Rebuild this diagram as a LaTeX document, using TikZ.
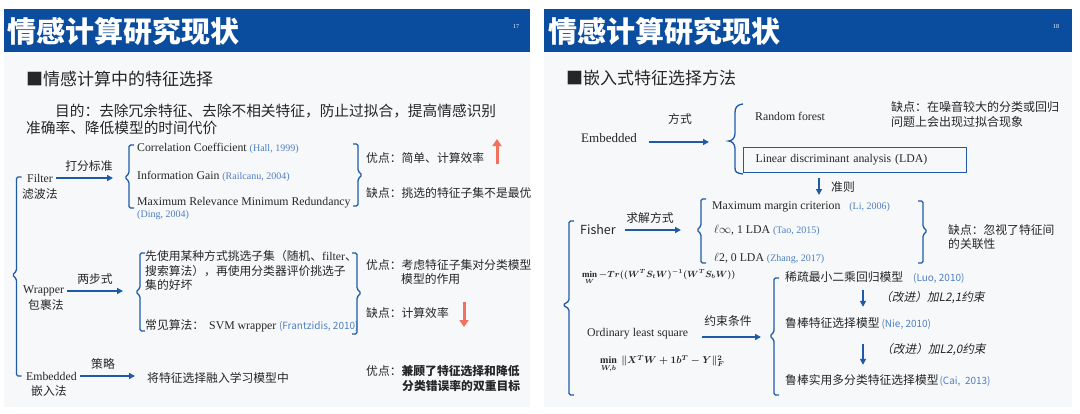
\documentclass[tikz,border=0pt]{standalone}
\usepackage{fontspec}
\setmainfont{Liberation Serif}
\newfontfamily\cjk{Noto Sans CJK SC}
\newfontfamily\cjki[FakeSlant=0.2]{Noto Sans CJK SC}
\usetikzlibrary{arrows.meta}
\definecolor{barblue}{HTML}{0A4C9E}
\definecolor{lineblue}{HTML}{1E5AA8}
\definecolor{citeblue}{HTML}{4F7FC0}
\definecolor{txt}{HTML}{262626}
\definecolor{slidebg}{HTML}{F7F8FA}
\definecolor{redarr}{HTML}{F2715E}
\newcommand\rf[1]{{\fontsize{10}{12}\selectfont\color{citeblue}#1}}
\newcommand\lbrk[5]{\draw[brk] (#1+5,#2) -- (#1,#2) -- (#1,#4-4) -- (#1-#5,#4) -- (#1,#4+4) -- (#1,#3) -- (#1+5,#3);}
\newcommand\rbrk[5]{\draw[brk] (#1-5,#2) -- (#1,#2) -- (#1,#4-4) -- (#1+#5,#4) -- (#1,#4+4) -- (#1,#3) -- (#1-5,#3);}
\tikzset{
  en/.style={font=\fontsize{11.8}{13}\selectfont, text=txt, inner sep=0pt, anchor=west},
  cn/.style={font=\cjk\fontsize{11.8}{13}\selectfont, text=txt, inner sep=0pt, anchor=west},
  cni/.style={font=\cjki\fontsize{11.7}{13}\selectfont, text=txt, inner sep=0pt, anchor=west},
  lbl/.style={cn, anchor=center},
  title/.style={font=\cjk\bfseries\fontsize{29}{29}\selectfont, text=white, inner sep=0pt, anchor=west},
  pg/.style={font=\fontsize{6}{6}\selectfont, text=white, inner sep=0pt},
  sub/.style={font=\cjk\fontsize{17}{17}\selectfont, text=txt, inner sep=0pt, anchor=west},
  purp/.style={font=\cjk\fontsize{14.7}{15}\selectfont, text=txt, inner sep=0pt, anchor=west},
  mathf/.style={font=\fontsize{9}{10}\selectfont\boldmath, text=txt, inner sep=0pt, anchor=west},
  arr/.style={draw=lineblue, line width=1.6pt, -{Triangle[length=6pt,width=6pt]}},
  redar/.style={draw=redarr, line width=3pt, -{Triangle[length=7pt,width=9pt]}},
  brk/.style={draw=lineblue, line width=1.3pt, rounded corners=1.5pt},
}
\begin{document}
\begin{tikzpicture}[x=1pt,y=-1pt]
\useasboundingbox (0,0) rectangle (1080,413);
\fill[white] (0,0) rectangle (1080,413);
% slides
\fill[slidebg] (4,9) rectangle (530,407);
\fill[slidebg] (544,9) rectangle (1072,407);
\fill[barblue] (4,9) rectangle (530,52);
\fill[barblue] (544,9) rectangle (1072,52);
\node[title] (t1) at (7,31) {情感计算研究现状};
\node[title] (t2) at (548,31) {情感计算研究现状};
\node[pg] (p17) at (516,27) {17};
\node[pg] (p18) at (1056,27) {18};

% ===== left slide =====
\node[sub] (s1) at (26,79) {■情感计算中的特征选择};
\node[purp] (pu1) at (55,111) {目的：去除冗余特征、去除不相关特征，防止过拟合，提高情感识别};
\node[purp] (pu2) at (26,128) {准确率、降低模型的时间代价};

\lbrk{16.5}{177}{376}{275}{4}

% Filter
\node[en] (filter) at (27,178) {Filter};
\node[cn] (filtercn) at (22,194) {滤波法};
\coordinate (fa) at (113,178);
\draw[arr, shorten <=3pt] (filter) -- (fa);
\node[lbl] (l1) at (89,166) {打分标准};
\lbrk{129}{145}{208}{177.5}{4}
\node[en] (cc) at (137,148) {Correlation Coefficient \rf{(Hall, 1999)}};
\node[en] (ig) at (137,176.5) {Information Gain \rf{(Railcanu, 2004)}};
\node[en] (mr) at (137,203) {Maximum Relevance Minimum Redundancy};
\node[en] (mrc) at (137,215.5) {\rf{(Ding, 2004)}};
\rbrk{358}{144}{206}{175}{4}
\node[cn] (f1p) at (366,158) {优点：简单、计算效率};
\node[cn] (f1n) at (366,193) {缺点：挑选的特征子集不是最优};
\coordinate (ru1) at (497,164);
\coordinate (ru2) at (497,139);
\draw[redar] (ru1) -- (ru2);

% Wrapper
\node[en] (wr) at (23,291) {Wrapper};
\node[cn] (wrcn) at (28,305) {包裹法};
\coordinate (wa) at (123,291);
\draw[arr, shorten <=3pt] (wr) -- (wa);
\node[lbl] (l2) at (95,279) {两步式};
\lbrk{140}{253}{331}{292}{4}
\node[cn] (w1) at (145,256) {先使用某种方式挑选子集（随机、{\rmfamily filter}、};
\node[cn] (w2) at (145,271) {搜索算法），再使用分类器评价挑选子};
\node[cn] (w3) at (145,285) {集的好坏};
\node[cn] (w4) at (145,326) {常见算法：\hspace{5pt}{\rmfamily SVM wrapper} \rf{(Frantzidis, 2010)}};
\rbrk{357}{253}{334}{293}{4}
\node[cn] (w5) at (366,265.5) {优点：考虑特征子集对分类模型};
\node[cn] (w6) at (401,279) {模型的作用};
\node[cn] (w7) at (366,313) {缺点：计算效率};
\coordinate (rd1) at (464,302);
\coordinate (rd2) at (464,327);
\draw[redar] (rd1) -- (rd2);

% Embedded
\node[en] (em) at (26,376) {Embedded};
\node[cn] (emcn) at (31,391) {嵌入法};
\coordinate (ea) at (135,376);
\draw[arr, shorten <=3pt] (em) -- (ea);
\node[lbl] (l3) at (103,364) {策略};
\node[cn] (e1) at (147,378) {将特征选择融入学习模型中};
\node[cn] (e2) at (366,371) {优点：\textbf{兼顾了特征选择和降低}};
\node[cn] (e3) at (402,386) {\textbf{分类错误率的双重目标}};

% ===== right slide =====
\node[sub] (s2) at (566,78) {■嵌入式特征选择方法};
\node[en, font=\fontsize{13}{14}\selectfont] (emb) at (581,138) {Embedded};
\coordinate (eb) at (709,142);
\draw[arr] ([xshift=12pt,yshift=-4pt]emb.east) -- (eb);
\node[lbl] (l4) at (680,119) {方式};
\draw[brk] (743,104) .. controls (736,105) and (735,108) .. (735,115) -- (735,132)
  .. controls (735,138) and (732,141) .. (727,141)
  .. controls (732,141) and (735,144) .. (735,150) -- (735,166)
  .. controls (735,172) and (736,173) .. (743,174);
\node[en] (rfor) at (755,116) {Random forest};
\node[en, draw=lineblue, line width=1.2pt, minimum height=25pt, text width=199pt, inner xsep=12pt, inner ysep=0pt, align=left] (lda) at (743,160) {Linear discriminant analysis (LDA)};
\node[cn, font=\cjk\fontsize{12}{13}\selectfont] (rn1) at (891,107) {缺点：在噪音较大的分类或回归};
\node[cn, font=\cjk\fontsize{12}{13}\selectfont] (rn2) at (891,122) {问题上会出现过拟合现象};
\coordinate (c2) at (819,195);
\draw[arr, shorten <=5pt] (lda.south -| c2) -- (c2);
\node[lbl] (l5) at (843,187) {准则};

% Fisher
\lbrk{569}{221}{395}{305}{6}
\node[cn, font=\cjk\fontsize{12.5}{13}\selectfont] (fisher) at (580,230) {Fisher};
\coordinate (fa2) at (681,230);
\draw[arr, shorten <=9pt] (fisher) -- (fa2);
\node[lbl] (l6) at (650,218) {求解方式};
\lbrk{701}{199}{263}{230}{4}
\node[en] (mm) at (712,206.5) {Maximum margin criterion\hspace{6pt} \rf{(Li, 2006)}};
\node[en] (linf) at (714,230) {$\ell\infty$, 1 LDA \rf{(Tao, 2015)}};
\node[en] (l20) at (714,258) {$\ell$2, 0 LDA \rf{(Zhang, 2017)}};
\rbrk{923}{201}{263}{231}{4}
\node[cn] (fn1) at (948,230) {缺点：忽视了特征间};
\node[cn] (fn2) at (948,244) {的关联性};

\node[mathf] (eq1) at (582,277) {$\min\limits_{W} -Tr((W^T S_t W)^{-1}(W^T S_b W))$};
\node[en] (ols) at (587,334) {Ordinary least square};
\coordinate (oa) at (761,337);
\draw[arr] ([xshift=14pt,yshift=-3pt]ols.east) -- (oa);
\node[lbl] (l7) at (728,321) {约束条件};
\node[mathf, font=\fontsize{10}{11}\selectfont\boldmath] (eq2) at (600,364) {$\min\limits_{W,b}\ \| X^T W + \mathbf{1} b^T - Y \|_F^2$};

\lbrk{774}{278}{395}{336}{4}
\node[cn] (m1) at (785,277) {稀疏最小二乘回归模型\hspace{10pt}\rf{(Luo, 2010)}};
\node[cn] (m2) at (785,324) {鲁棒特征选择模型\hspace{2pt}\rf{(Nie, 2010)}};
\node[cn] (m3) at (785,380) {鲁棒实用多分类特征选择模型\hspace{1pt}\rf{(Cai,\ \ 2013)}};
\coordinate (ax) at (863,300);
\draw[arr, shorten <=7pt, shorten >=11pt] (m1.south -| ax) -- (m2.north -| ax);
\draw[arr, shorten <=14pt, shorten >=9pt] (m2.south -| ax) -- (m3.north -| ax);
\node[cni] (i1) at (880,298) {（改进）加L2,1约束};
\node[cni] (i2) at (881,350) {（改进）加L2,0约束};
\end{tikzpicture}
\end{document}
